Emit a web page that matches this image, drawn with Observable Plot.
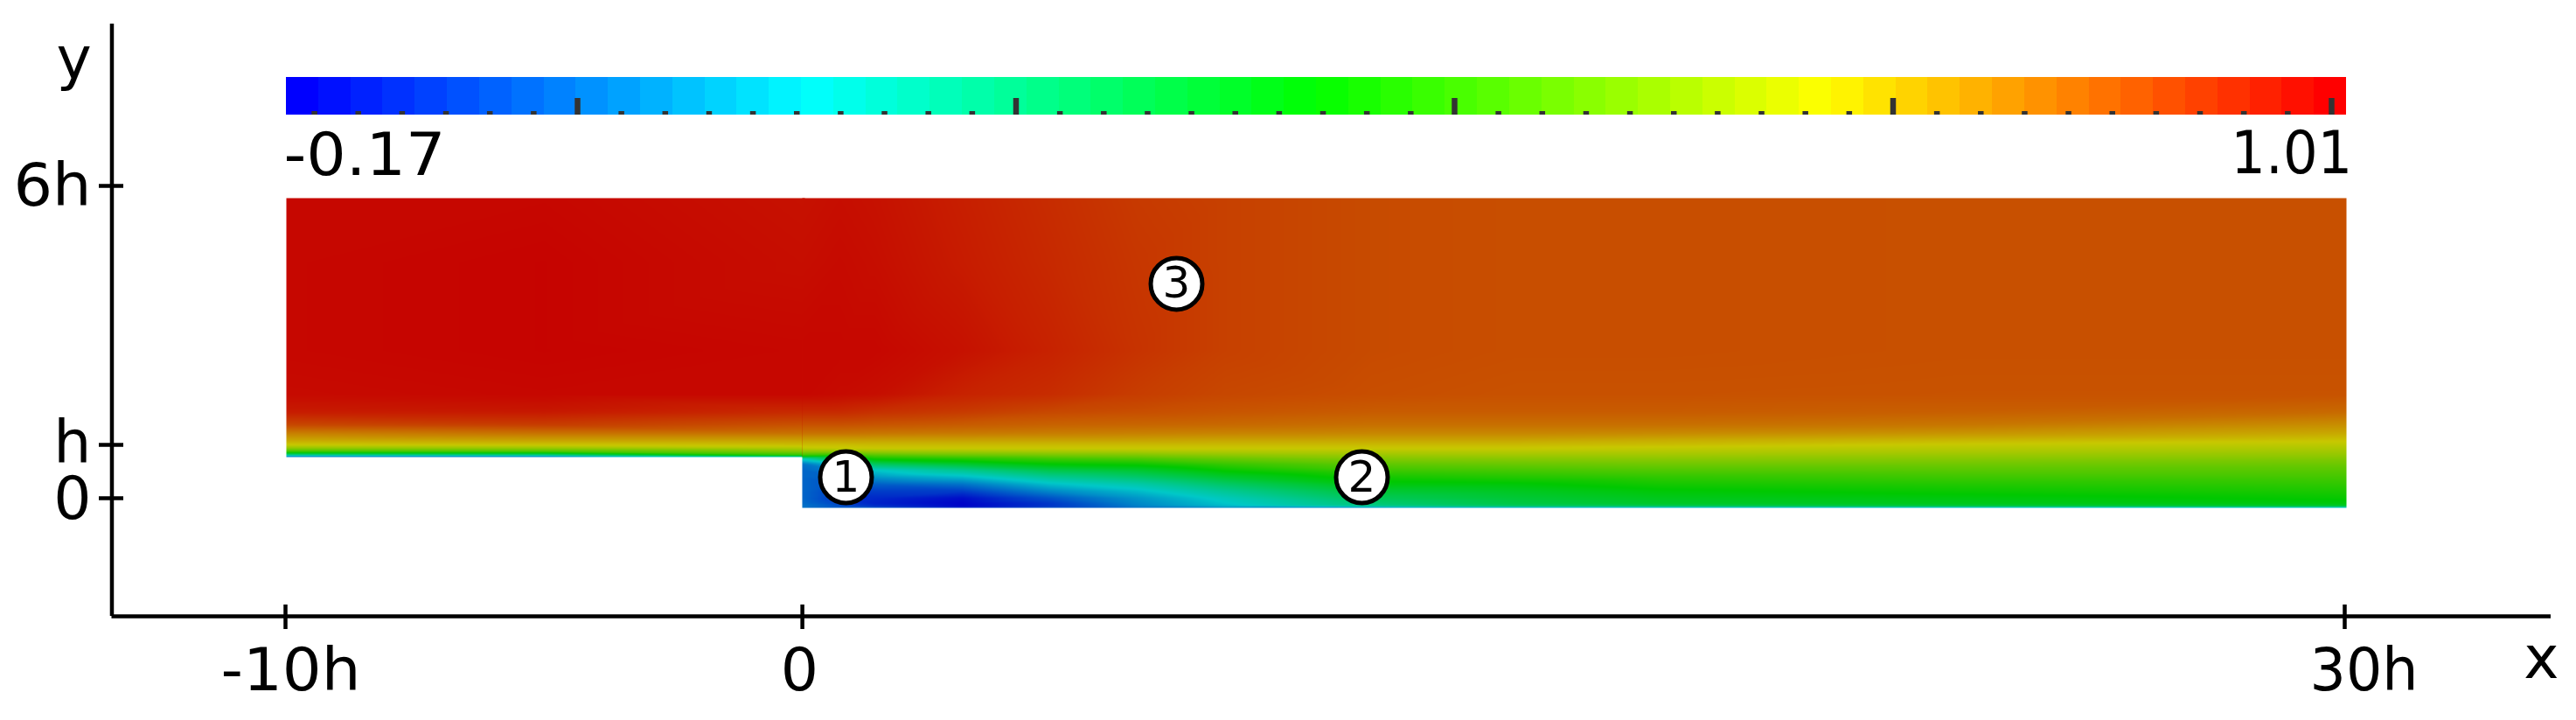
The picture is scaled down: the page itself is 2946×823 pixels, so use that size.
<!DOCTYPE html>
<html>
<head>
<meta charset="utf-8">
<style>html,body{margin:0;padding:0;background:#fff}svg{display:block}</style>
<script src="https://cdn.jsdelivr.net/npm/d3@7"></script>
<script src="https://cdn.jsdelivr.net/npm/@observablehq/plot@0.6"></script>
</head>
<body>
<div id="chart"></div>
<script>
// Axis ticks and labels
const xTicks = [-10, 0.04, 30];
const xTickLabels = ["-10h", "0", "30h"];
const xTickLabelX = [-9.898, -0.013, 30.374];
const yTicks = [0, 1.025, 6];
const yTickLabels = ["0", "h", "6h"];
const yTickLabelY = [-0.387, 0.689, 5.63];

// Numbered markers
const markerLabels = ["1", "2", "3"];
const markerX = [0.887, 10.909, 7.308];
const markerY = [0.403, 0.403, 4.118];

// Colour bar
const barMin = -0.17, barMax = 1.01;
const barLabels = ["-0.17", "1.01"];
const barMajorTicks = [0, 0.25, 0.5, 0.75, 1];
const barMinorTicks = [-0.15,-0.125,-0.1,-0.075,-0.05,-0.025,0.025,0.05,0.075,0.1,0.125,0.15,0.175,0.2,0.225,
  0.275,0.3,0.325,0.35,0.375,0.4,0.425,0.45,0.475,0.525,0.55,0.575,0.6,0.625,0.65,0.675,0.7,0.725,
  0.775,0.8,0.825,0.85,0.875,0.9,0.925,0.95,0.975];
const barLevelCount = 64;
const rainbowValues = [-0.17, -0.0225, 0.125, 0.2725, 0.42, 0.5675, 0.715, 0.8625, 1.01];
const rainbowColors = ["#0000ff","#0080ff","#00ffff","#00ff80","#00ff00","#80ff00","#ffff00","#ff8000","#ff0000"];
const shadedColors  = ["#0000c8","#0064c8","#00c8c8","#00c864","#00c800","#64c800","#c8c800","#c86400","#c60000"];

// Field samples: one profile per x station
const upstreamRows = [5.765,4.521,2.84,2.0,1.664,1.412,1.244,1.109,1.025,0.958,0.891,0.824,0.79];
const upstreamX = [-9.983, -4.972, 0.038];
const upstreamMinus10 = [1.0,1.0,1.0,0.995,0.97,0.905,0.82,0.76,0.715,0.63,0.50,0.18,-0.02];
const upstreamMinus5  = [1.0,1.005,1.005,1.0,0.975,0.92,0.84,0.77,0.72,0.64,0.52,0.20,-0.02];
const upstreamZero    = [0.985,0.99,1.0,1.0,0.95,0.89,0.84,0.77,0.73,0.68,0.60,0.48,0.10];

const channelRows = [5.765,4.521,2.84,2.0,1.664,1.412,1.244,1.109,1.025,0.958,0.891,0.824,0.756,0.655,0.538,0.403,0.269,0.134,0,-0.101,-0.151,-0.185];
const channelX = [0.038,0.769,1.448,3.146,4.845,6.544,8.242,11.079,13.898,16.735,22.51,30.034];
const station00 = [0.985,0.99,1.0,1.0,0.95,0.89,0.84,0.77,0.73,0.70,0.62,0.5,0.15,0.0,-0.02,-0.02,-0.02,-0.02,-0.02,-0.01,0,0];
const station01 = [0.99,0.995,1.0,0.995,0.95,0.89,0.84,0.77,0.73,0.71,0.62,0.48,0.36,0.12,0.02,-0.03,-0.06,-0.08,-0.09,-0.07,-0.05,-0.03];
const station02 = [0.985,0.99,1.0,0.99,0.94,0.885,0.835,0.77,0.735,0.715,0.64,0.54,0.44,0.28,0.125,0.05,-0.03,-0.08,-0.11,-0.12,-0.10,-0.04];
const station03 = [0.965,0.97,0.985,0.96,0.925,0.875,0.83,0.77,0.735,0.715,0.65,0.57,0.47,0.35,0.21,0.10,0.0,-0.08,-0.15,-0.165,-0.165,-0.10];
const station04 = [0.945,0.95,0.96,0.945,0.905,0.865,0.825,0.77,0.735,0.715,0.66,0.59,0.51,0.42,0.31,0.20,0.11,0.03,-0.05,-0.09,-0.09,-0.05];
const station05 = [0.925,0.93,0.935,0.92,0.895,0.86,0.82,0.77,0.735,0.715,0.665,0.60,0.53,0.44,0.35,0.26,0.17,0.105,0.05,0.03,0.02,0.0];
const station06 = [0.915,0.915,0.915,0.905,0.885,0.855,0.815,0.765,0.735,0.715,0.675,0.625,0.57,0.50,0.43,0.35,0.27,0.20,0.145,0.12,0.10,0.03];
const station07 = [0.90,0.90,0.90,0.895,0.875,0.845,0.81,0.765,0.735,0.715,0.68,0.645,0.61,0.56,0.51,0.45,0.40,0.34,0.29,0.25,0.21,0.02];
const station08 = [0.895,0.895,0.895,0.89,0.875,0.845,0.81,0.765,0.735,0.715,0.685,0.655,0.62,0.575,0.525,0.47,0.41,0.37,0.34,0.32,0.28,0.03];
const station09 = [0.895,0.895,0.895,0.89,0.875,0.845,0.805,0.755,0.73,0.705,0.68,0.655,0.625,0.585,0.54,0.49,0.45,0.41,0.38,0.36,0.30,0.04];
const station10 = [0.892,0.892,0.892,0.888,0.87,0.835,0.79,0.74,0.71,0.69,0.67,0.645,0.62,0.585,0.55,0.51,0.47,0.435,0.40,0.38,0.33,0.05];
const station11 = [0.892,0.892,0.892,0.888,0.855,0.80,0.76,0.72,0.695,0.675,0.655,0.635,0.61,0.58,0.55,0.52,0.49,0.46,0.43,0.40,0.35,0.06];

const samples = (xs, rows, profiles) =>
  xs.flatMap((x, i) => rows.map((y, j) => ({x, y, v: profiles[i][j]})));
const upstreamSamples = samples(upstreamX, upstreamRows, [upstreamMinus10, upstreamMinus5, upstreamZero]);
const channelSamples = samples(channelX, channelRows,
  [station00,station01,station02,station03,station04,station05,station06,station07,station08,station09,station10,station11]);

// Colour bar placement on the chart's own x and y units
const barLeft = -9.983, barRight = 30.034, barTop = 8.084, barBottom = 7.361;
const barX = v => -4.327 + 34.072 * v;
const rainbow = d3.scaleLinear().domain(rainbowValues).range(rainbowColors);
const barLevels = d3.range(barLevelCount);
const levelValue = i => barMin + (barMax - barMin) * i / (barLevelCount - 1);
const levelEdge = i => barLeft + (barRight - barLeft) * i / barLevelCount;

const font = "DejaVu Sans";
const labelSize = 68;
const axisLeft = -13.372, axisRight = 34.008, axisTop = 9.109, axisBottom = -2.269;
// The reference's labels are slightly condensed or stretched, each by its own amount
const labelLengths = new Map([["-10h", 160], ["30h", 124], ["1.01", 139], ["-0.17", 185], ["6h", 89]]);

const chart = Plot.plot({
  width: 2946,
  height: 823,
  margin: 0,
  style: {background: "#fff"},
  x: {domain: [-10, 30], range: [326, 2681], axis: null},
  y: {domain: [0, 6], range: [569, 212], axis: null},
  color: {type: "linear", domain: rainbowValues, range: shadedColors, clamp: true},
  marks: [
    Plot.raster(upstreamSamples, {x: "x", y: "y", fill: "v", x1: -9.983, x2: 0.09, y1: 0.79, y2: 5.765, interpolate: "barycentric", pixelSize: 1}),
    Plot.raster(channelSamples, {x: "x", y: "y", fill: "v", x1: 0.038, x2: 30.034, y1: -0.185, y2: 5.765, interpolate: "barycentric", pixelSize: 1}),

    Plot.rect(barLevels, {x1: i => levelEdge(i), x2: i => levelEdge(i + 1), y1: barBottom, y2: barTop, fill: i => rainbow(levelValue(i)), shapeRendering: "crispEdges"}),
    Plot.ruleX(barMinorTicks, {x: barX, y1: barBottom, y2: 7.429, stroke: "#333", strokeWidth: 6.5}),
    Plot.ruleX(barMajorTicks, {x: barX, y1: barBottom, y2: 7.681, stroke: "#333", strokeWidth: 6.5}),
    Plot.text([barMin], {x: -10.034, y: 6.218, text: () => barLabels[0], textAnchor: "start", lineAnchor: "bottom", fontFamily: font, fontSize: labelSize, fill: "#000"}),
    Plot.text([barMax], {x: 30.15, y: 6.252, text: () => barLabels[1], textAnchor: "end", lineAnchor: "bottom", fontFamily: font, fontSize: labelSize, fill: "#000"}),

    Plot.ruleX([axisLeft], {y1: axisBottom, y2: axisTop, stroke: "#000", strokeWidth: 4.5}),
    Plot.ruleY([axisBottom], {x1: axisLeft, x2: axisRight, stroke: "#000", strokeWidth: 4.5}),
    Plot.ruleX(xTicks, {y1: -2.05, y2: -2.521, stroke: "#000", strokeWidth: 4.5}),
    Plot.ruleY(yTicks, {x1: -13.618, x2: -13.142, stroke: "#000", strokeWidth: 4.5}),
    Plot.text(xTickLabels, {x: (d, i) => xTickLabelX[i], y: -3.681, text: d => d, textAnchor: "middle", lineAnchor: "bottom", fontFamily: font, fontSize: labelSize, fill: "#000"}),
    Plot.text(yTickLabels, {x: -13.771, y: (d, i) => yTickLabelY[i], text: d => d, textAnchor: "end", lineAnchor: "bottom", fontFamily: font, fontSize: labelSize, fill: "#000"}),
    Plot.text(["x"], {x: 33.82, y: -3.462, text: d => d, textAnchor: "middle", lineAnchor: "bottom", fontFamily: font, fontSize: labelSize, fill: "#000"}),
    Plot.text(["y"], {x: -14.11, y: 8.067, text: d => d, textAnchor: "middle", lineAnchor: "bottom", fontFamily: font, fontSize: labelSize, fill: "#000"}),

    Plot.dot(markerLabels, {x: (d, i) => markerX[i], y: (d, i) => markerY[i], r: 29.5, fill: "#fff", stroke: "#000", strokeWidth: 5}),
    Plot.text(markerLabels, {x: (d, i) => markerX[i], y: (d, i) => markerY[i], text: d => d, textAnchor: "middle", lineAnchor: "middle", fontFamily: font, fontSize: 50, fill: "#000"})
  ]
});
d3.select(chart).selectAll("text").each(function () {
  const length = labelLengths.get(this.textContent);
  if (length) {
    this.setAttribute("textLength", length);
    this.setAttribute("lengthAdjust", "spacingAndGlyphs");
  }
});
document.getElementById("chart").appendChild(chart);
</script>
</body>
</html>
